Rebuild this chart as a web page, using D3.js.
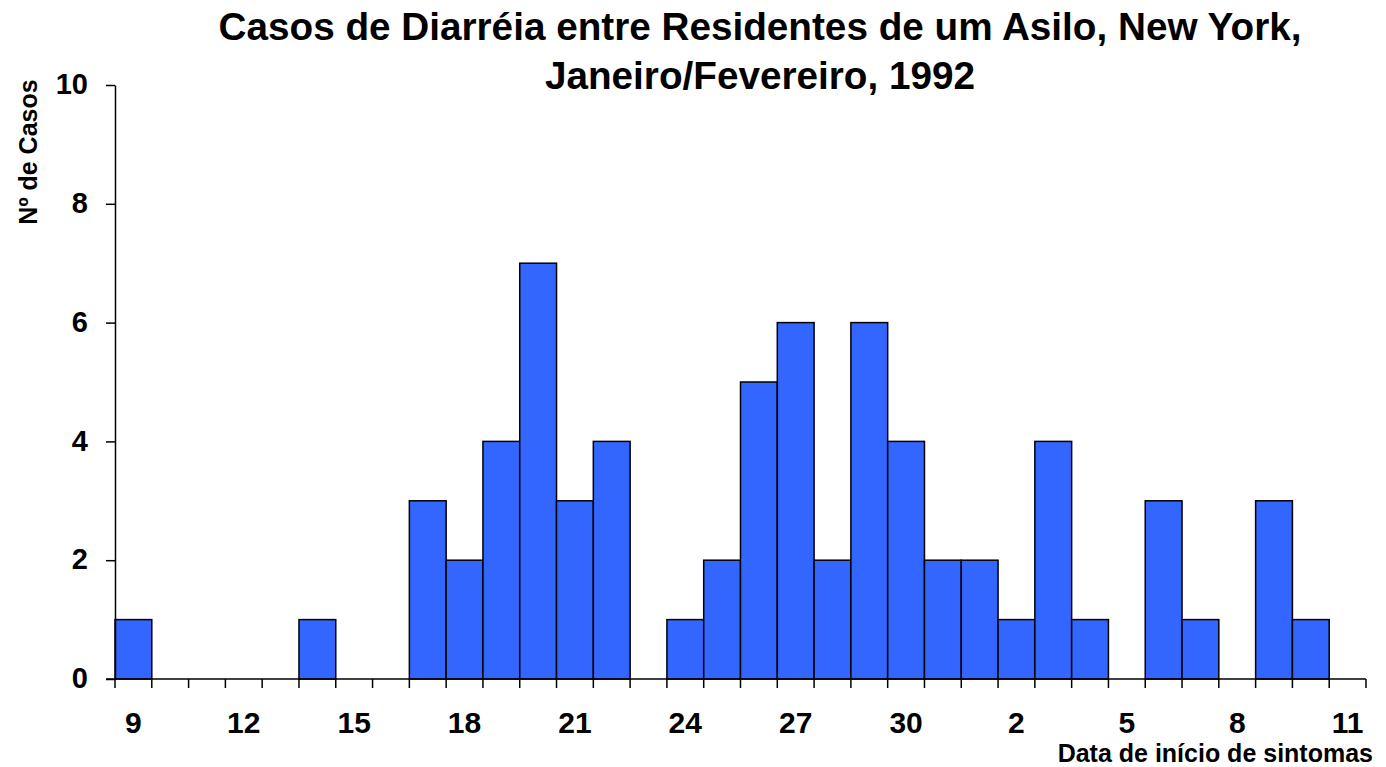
<!DOCTYPE html>
<html><head><meta charset="utf-8">
<script src="https://cdn.jsdelivr.net/npm/d3@7"></script>
<style>body{margin:0;background:#fff;} text{font-family:Arial,"Liberation Sans",sans-serif;font-weight:bold;}</style>
</head><body>
<svg id="c" width="1386" height="767"></svg>
<script>
const days = ["9","10","11","12","13","14","15","16","17","18","19","20","21","22","23","24","25","26","27","28","29","30","31","1","2","3","4","5","6","7","8","9","10","11"];
const cases = [1,0,0,0,0,1,0,0,3,2,4,7,3,4,0,1,2,5,6,2,6,4,2,2,1,4,1,0,3,1,0,3,1,0];
const yTicks = [0,2,4,6,8,10];
const xLabelEvery = 3;
const title = ["Casos de Diarréia entre Residentes de um Asilo, New York,","Janeiro/Fevereiro, 1992"];
const yTitle = "Nº de Casos";
const xTitle = "Data de início de sintomas";

const svg = d3.select("#c");
const L=115, R=1366, T=85, B=679;
const idx = d3.range(days.length);
const x = d3.scaleBand().domain(idx).range([L,R]).padding(0);
const y = d3.scaleLinear().domain([0,10]).range([B,T]);

svg.selectAll("rect.bar").data(idx.filter(i=>cases[i]>0)).join("rect").attr("class","bar")
  .attr("x",i=>x(i)).attr("width",x.bandwidth())
  .attr("y",i=>y(cases[i])).attr("height",i=>B-y(cases[i]))
  .attr("fill","#3366FF").attr("stroke","#000").attr("stroke-width",1.5);

// y axis
const ya = svg.append("g").attr("transform",`translate(${L},0)`)
  .call(d3.axisLeft(y).tickValues(yTicks).tickSize(9).tickPadding(18).tickSizeOuter(0));
ya.select(".domain").attr("stroke-width",1.5);
ya.selectAll(".tick line").attr("stroke-width",1.5);
ya.selectAll("text").attr("font-size",29).attr("fill","#000").attr("font-family",null).attr("dy","0.3em");

// x axis line and ticks at bin boundaries
svg.append("line").attr("x1",L-9).attr("x2",R).attr("y1",B).attr("y2",B).attr("stroke","#000").attr("stroke-width",1.5);
const bounds = idx.map(i=>x(i)).concat([R]);
svg.selectAll("line.xt").data(bounds).join("line").attr("class","xt")
  .attr("x1",d=>d).attr("x2",d=>d).attr("y1",B).attr("y2",B+9).attr("stroke","#000").attr("stroke-width",1.5);
svg.selectAll("text.xl").data(idx.filter(i=>i%xLabelEvery===0)).join("text")
  .attr("class","xl").attr("x",i=>x(i)+x.bandwidth()/2).attr("y",733)
  .attr("text-anchor","middle").attr("font-size",30).text(i=>days[i]);

svg.selectAll("text.t").data(title).join("text").attr("class","t")
  .attr("x",760).attr("y",(d,i)=>40+i*49).attr("text-anchor","middle").attr("font-size",38.7).text(d=>d);

svg.append("text").attr("transform","translate(37,152) rotate(-90)").attr("text-anchor","middle").attr("font-size",25).text(yTitle);
svg.append("text").attr("x",1373).attr("y",762).attr("text-anchor","end").attr("font-size",25).text(xTitle);
</script>
</body></html>
